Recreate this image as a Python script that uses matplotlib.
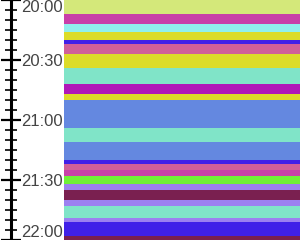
import matplotlib
matplotlib.use("Agg")
import matplotlib.pyplot as plt

# band start times (the band ends where the next one starts)
starts = ['20:00', '20:07', '20:12', '20:16', '20:20', '20:22', '20:27', '20:34',
          '20:42', '20:47', '20:50', '21:04', '21:11', '21:20', '21:22', '21:25',
          '21:28', '21:32', '21:35', '21:40', '21:43', '21:49', '21:51', '21:58']
end_time = '22:03'
colors = ['#d4e87a', '#c840a8', '#90f0ec', '#dcdc28', '#4020e8', '#d06098', '#dcdc28', '#80e4c8',
          '#b018b8', '#dcdc28', '#6488e0', '#80e4c8', '#6488e0', '#4020e8', '#d06098', '#c840a8',
          '#70f038', '#9c80f0', '#7a2050', '#9c80f0', '#80e4c8', '#9c80f0', '#4020e8', '#7a2050']
tick_labels = ['20:00', '20:30', '21:00', '21:30', '22:00']


def to_min(t):
    h, m = t.split(':')
    return int(h) * 60 + int(m)


t0 = to_min('20:00')
s = [to_min(t) - t0 for t in starts]
e = s[1:] + [to_min(end_time) - t0]
dur = [b - a for a, b in zip(s, e)]

fig = plt.figure(figsize=(3.0, 2.4), dpi=100)
ax = fig.add_axes([64 / 300, 0, 236 / 300, 1])
ax.barh(s, [1] * len(s), height=dur, left=0, align='edge', color=colors, linewidth=0)
ax.set_xlim(0, 1)
ax.set_ylim(120, 0)

for side in ('top', 'right', 'bottom'):
    ax.spines[side].set_visible(False)
ax.spines['left'].set_position(('outward', 38.2))
ax.spines['left'].set_linewidth(2.2)
ax.set_xticks([])

ax.set_yticks([to_min(t) - t0 for t in tick_labels])
ax.set_yticklabels(tick_labels)
ax.set_yticks(range(0, 121, 5), minor=True)
ax.tick_params(axis='y', which='major', direction='inout', length=14.4, width=1.6,
               pad=-14.8, labelsize=12, labelcolor='#444444')
ax.tick_params(axis='y', which='minor', direction='inout', length=8.3, width=1.2)
labs = ax.get_yticklabels()
for lab in labs:
    lab.set_horizontalalignment('left')
    lab.set_fontfamily('Liberation Sans')
labs[0].set_verticalalignment('top')
labs[-1].set_verticalalignment('bottom')

fig.savefig('out.png', dpi=100)
